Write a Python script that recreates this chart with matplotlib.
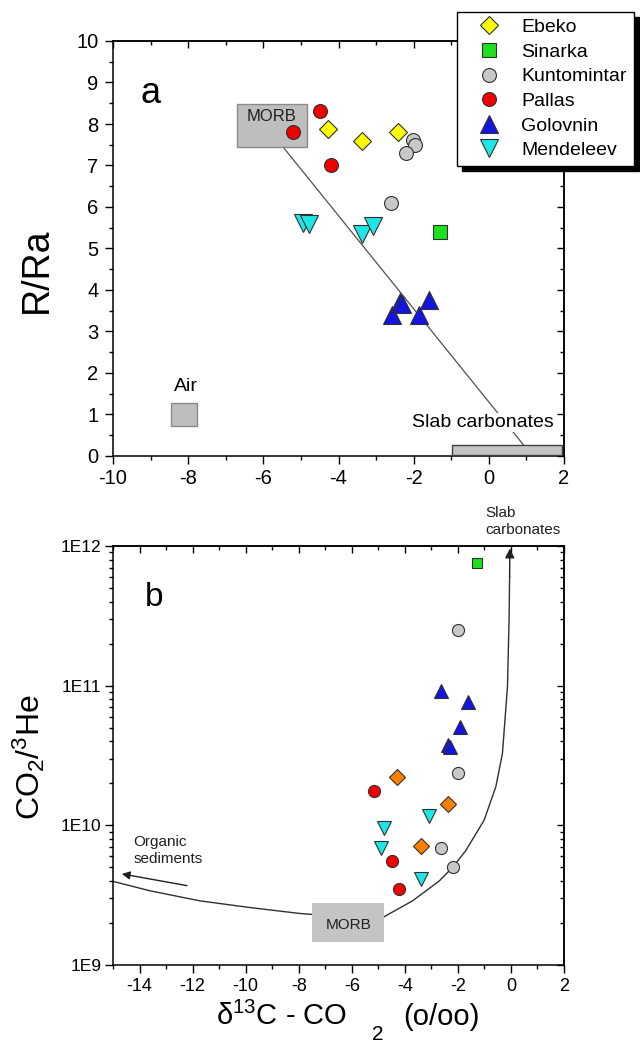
import matplotlib
matplotlib.use("Agg")
import numpy as np
import matplotlib.pyplot as plt
from matplotlib.patches import Rectangle
from matplotlib.ticker import MultipleLocator, LogLocator, FuncFormatter, NullFormatter

plt.rcParams['font.family'] = ['Liberation Sans', 'DejaVu Sans']
plt.rcParams['mathtext.fontset'] = 'custom'
plt.rcParams['mathtext.rm'] = 'Liberation Sans'
plt.rcParams['mathtext.it'] = 'Liberation Sans:italic'
plt.rcParams['mathtext.sf'] = 'Liberation Sans'
plt.rcParams['axes.unicode_minus'] = False

# ---------------- data ----------------
series = ["Ebeko", "Sinarka", "Kuntomintar", "Pallas", "Golovnin", "Mendeleev"]

# panel a : R/Ra vs d13C
a_ebeko_x = [-4.29, -3.38, -2.41]
a_ebeko_y = [7.88, 7.59, 7.80]
a_sinarka_x = [-1.30]
a_sinarka_y = [5.39]
a_kunt_x = [-2.01, -1.96, -2.20, -2.60]
a_kunt_y = [7.61, 7.49, 7.31, 6.10]
a_pallas_x = [-4.49, -5.20, -4.20]
a_pallas_y = [8.31, 7.81, 7.00]
a_golov_x = [-2.58, -2.36, -2.30, -1.87, -1.60]
a_golov_y = [3.40, 3.72, 3.66, 3.40, 3.76]
a_mend_x = [-4.94, -4.78, -3.38, -3.09]
a_mend_y = [5.61, 5.59, 5.35, 5.55]

# panel b : CO2/3He vs d13C
b_ebeko_x = [-4.29, -2.39, -3.39]
b_ebeko_y = [2.23e10, 1.43e10, 7.06e9]
b_sinarka_x = [-1.28]
b_sinarka_y = [7.55e11]
b_kunt_x = [-2.01, -2.01, -2.62, -2.20]
b_kunt_y = [2.49e11, 2.38e10, 6.87e9, 5.0e9]
b_pallas_x = [-5.18, -4.48, -4.21]
b_pallas_y = [1.76e10, 5.6e9, 3.48e9]
b_golov_x = [-2.62, -1.60, -1.91, -2.39, -2.30]
b_golov_y = [9.1e10, 7.7e10, 5.1e10, 3.77e10, 3.66e10]
b_mend_x = [-4.80, -4.88, -3.10, -3.39]
b_mend_y = [9.5e9, 6.9e9, 1.17e10, 4.14e9]

# end-member boxes [x0, x1, y0, y1]
a_morb_box = [-6.69, -4.85, 7.44, 8.48]
a_air_box = [-8.47, -7.77, 0.72, 1.28]
a_slab_box = [-0.99, 1.95, 0.02, 0.27]
a_mix_x = [-5.47, 0.92]
a_mix_y = [7.44, 0.27]

b_morb_box = [-7.50, -4.77, 1.45e9, 2.78e9]
# mixing curve
curve_x = [-15.0, -13.61, -11.73, -9.85, -7.97, -6.2, -4.83, -3.71, -2.70, -2.20,
           -1.70, -1.01, -0.57, -0.32, -0.13, -0.07, -0.05]
curve_y = [3.97e9, 3.40e9, 2.88e9, 2.58e9, 2.34e9, 2.2e9, 2.19e9, 2.88e9, 4.0e9, 5.0e9,
           6.6e9, 1.09e10, 1.89e10, 3.28e10, 9.9e10, 3.0e11, 6.0e11]
slab_arrow_tip = (-0.04, 9.6e11)
org_arrow_from = (-12.21, 3.70e9)
org_arrow_to = (-14.67, 4.49e9)

# ---------------- styles ----------------
edge = '#303030'
sty_a = {
    "Ebeko": dict(marker='D', color='#FFFF00', ms=9.0),
    "Sinarka": dict(marker='s', color='#1EE01E', ms=9.5),
    "Kuntomintar": dict(marker='o', color='#C8C8C8', ms=10),
    "Pallas": dict(marker='o', color='#F00000', ms=10),
    "Golovnin": dict(marker='^', color='#1414E0', ms=13),
    "Mendeleev": dict(marker='v', color='#1EE6E6', ms=13),
}
sty_b = {
    "Ebeko": dict(marker='D', color='#FF8000', ms=8),
    "Sinarka": dict(marker='s', color='#1EE01E', ms=7.8),
    "Kuntomintar": dict(marker='o', color='#C8C8C8', ms=8.7),
    "Pallas": dict(marker='o', color='#F00000', ms=8.7),
    "Golovnin": dict(marker='^', color='#1414E0', ms=10),
    "Mendeleev": dict(marker='v', color='#1EE6E6', ms=10),
}
a_data = {"Ebeko": (a_ebeko_x, a_ebeko_y), "Sinarka": (a_sinarka_x, a_sinarka_y),
          "Kuntomintar": (a_kunt_x, a_kunt_y), "Pallas": (a_pallas_x, a_pallas_y),
          "Golovnin": (a_golov_x, a_golov_y), "Mendeleev": (a_mend_x, a_mend_y)}
b_data = {"Ebeko": (b_ebeko_x, b_ebeko_y), "Sinarka": (b_sinarka_x, b_sinarka_y),
          "Kuntomintar": (b_kunt_x, b_kunt_y), "Pallas": (b_pallas_x, b_pallas_y),
          "Golovnin": (b_golov_x, b_golov_y), "Mendeleev": (b_mend_x, b_mend_y)}

W, H = 640, 1045
fig = plt.figure(figsize=(W / 100, H / 100), dpi=100)
ax_a = fig.add_axes([113 / W, 1 - 456 / H, 451 / W, 415 / H])
ax_b = fig.add_axes([113 / W, 1 - 965 / H, 451 / W, 419 / H])

def box(ax, b, fc, ec, lw=1.0, z=3):
    ax.add_patch(Rectangle((b[0], b[2]), b[1] - b[0], b[3] - b[2], facecolor=fc,
                           edgecolor=ec, linewidth=lw, zorder=z))

# ---------------- panel a ----------------
ax_a.plot(a_mix_x, a_mix_y, color='#505050', lw=0.9, zorder=2)
box(ax_a, a_morb_box, '#BEBEBE', '#8A8A8A')
box(ax_a, a_air_box, '#BEBEBE', '#8A8A8A')
box(ax_a, a_slab_box, '#C4C4C4', '#404040')
ax_a.text((a_morb_box[0] + a_morb_box[1]) / 2, 8.18, "MORB", ha='center', va='center',
          fontsize=12, color='#202020', zorder=4)
ax_a.text(-8.07, 1.67, "Air", ha='center', va='center', fontsize=14, zorder=4)
ax_a.text(-0.15, 0.81, "Slab carbonates", ha='center', va='center', fontsize=14, zorder=4,
          bbox=dict(facecolor='white', edgecolor='none', pad=1))
ax_a.text(-8.99, 8.74, "a", ha='center', va='center', fontsize=26)

handles = []
for s in series:
    st = sty_a[s]
    x, y = a_data[s]
    h, = ax_a.plot(x, y, linestyle='none', marker=st['marker'], markersize=st['ms'],
                   markerfacecolor=st['color'], markeredgecolor=edge, markeredgewidth=0.8,
                   label=s, zorder=5)
    handles.append(h)

ax_a.set_xlim(-10, 2)
ax_a.set_ylim(0, 10)
ax_a.xaxis.set_major_locator(MultipleLocator(2))
ax_a.xaxis.set_minor_locator(MultipleLocator(1))
ax_a.yaxis.set_major_locator(MultipleLocator(1))
ax_a.yaxis.set_minor_locator(MultipleLocator(0.5))

# ---------------- panel b ----------------
ax_b.set_yscale('log')
ax_b.plot(curve_x, curve_y, color='#303030', lw=1.0, zorder=2)
ax_b.annotate("", xy=slab_arrow_tip, xytext=(curve_x[-1], curve_y[-1]),
              arrowprops=dict(arrowstyle='-|>', color='#202020', lw=1.0,
                              mutation_scale=14, shrinkA=0, shrinkB=0), zorder=3)
ax_b.annotate("", xy=org_arrow_to, xytext=org_arrow_from,
              arrowprops=dict(arrowstyle='-|>', color='#202020', lw=1.0,
                              mutation_scale=12, shrinkA=0, shrinkB=0), zorder=3)
box(ax_b, b_morb_box, '#C4C4C4', 'none', lw=0)
ax_b.text((b_morb_box[0] + b_morb_box[1]) / 2, 1.92e9, "MORB", ha='center', va='center',
          fontsize=11, color='#202020', zorder=4)
ax_b.text(-14.24, 6.6e9, "Organic\nsediments", ha='left', va='center', fontsize=11,
          linespacing=1.25, color='#202020')
ax_b.text(-0.95, 1.5e12, "Slab\ncarbonates", ha='left', va='center', fontsize=11,
          linespacing=1.25, color='#202020', clip_on=False)
ax_b.text(-13.45, 4.3e11, "b", ha='center', va='center', fontsize=24)

for s in series:
    st = sty_b[s]
    x, y = b_data[s]
    ax_b.plot(x, y, linestyle='none', marker=st['marker'], markersize=st['ms'],
              markerfacecolor=st['color'], markeredgecolor=edge, markeredgewidth=0.8,
              zorder=5)

ax_b.set_xlim(-15, 2)
ax_b.set_ylim(1e9, 1e12)
ax_b.xaxis.set_major_locator(MultipleLocator(2))
ax_b.xaxis.set_minor_locator(MultipleLocator(1))
ax_b.yaxis.set_major_locator(LogLocator(base=10))
ax_b.yaxis.set_minor_locator(LogLocator(base=10, subs=np.arange(2, 10)))
ax_b.yaxis.set_major_formatter(FuncFormatter(lambda v, p: "1E%d" % int(round(np.log10(v)))))
ax_b.yaxis.set_minor_formatter(NullFormatter())

# ---------------- axes styling ----------------
for ax, lab_a, lab_b in ((ax_a, 14.5, 14.5), (ax_b, 13, 12.5)):
    for sp in ax.spines.values():
        sp.set_linewidth(1.1)
    ax.tick_params(which='both', top=False, right=False, direction='out', width=1.0)
    ax.tick_params(which='major', length=5.5)
    ax.tick_params(which='minor', length=3)
    ax.tick_params(axis='x', labelsize=lab_a, pad=4)
    ax.tick_params(axis='y', labelsize=lab_b, pad=4)
    sx = ax.secondary_xaxis('top')
    sx.xaxis.set_major_locator(MultipleLocator(2))
    sx.xaxis.set_minor_locator(MultipleLocator(1))
    sx.tick_params(which='both', direction='in', labeltop=False, width=1.0)
    sx.tick_params(which='major', length=5)
    sx.tick_params(which='minor', length=3)
    sy = ax.secondary_yaxis('right')
    if ax is ax_a:
        sy.yaxis.set_major_locator(MultipleLocator(1))
        sy.yaxis.set_minor_locator(MultipleLocator(0.5))
    else:
        sy.yaxis.set_major_locator(LogLocator(base=10))
        sy.yaxis.set_minor_locator(LogLocator(base=10, subs=np.arange(2, 10)))
        sy.yaxis.set_minor_formatter(NullFormatter())
    sy.tick_params(which='both', direction='in', labelright=False, width=1.0)
    sy.tick_params(which='major', length=5)
    sy.tick_params(which='minor', length=3)
    for sa in (sx, sy):
        for sp in sa.spines.values():
            sp.set_linewidth(1.1)

ax_a.tick_params(axis='y', pad=5)
ax_b.tick_params(axis='y', pad=3)

# axis labels
fig.text(37 / W, 1 - 270 / H, "R/Ra", rotation=90, ha='center', va='center', fontsize=27)
fig.text(29 / W, 1 - 757 / H, r"CO$_2$/$^3$He", rotation=90, ha='center', va='center',
         fontsize=23)
fig.text(216 / W, 1 - 1025 / H, r"δ$^{13}$C - CO", ha='left', va='baseline', fontsize=21)
fig.text(377.5 / W, 1 - 1044 / H, "2", ha='center', va='bottom', fontsize=15)
fig.text(403 / W, 1 - 1025 / H, "(o/oo)", ha='left', va='baseline', fontsize=21)

# legend
leg = ax_a.legend(handles=handles, loc='upper left', bbox_to_anchor=(456.7 / W, 1 - 11.7 / H),
                  bbox_transform=fig.transFigure, fontsize=14, frameon=True,
                  fancybox=False, edgecolor='black', framealpha=1, borderpad=0.35,
                  labelspacing=0.36, handlelength=2.6, handletextpad=0.37,
                  markerscale=1.0, borderaxespad=0,
                  shadow={'ox': 3.6, 'oy': -3.6, 'color': 'black', 'alpha': 1})
leg.get_frame().set_linewidth(1.0)
leg.set_zorder(20)

fig.savefig("out.png", dpi=100)
